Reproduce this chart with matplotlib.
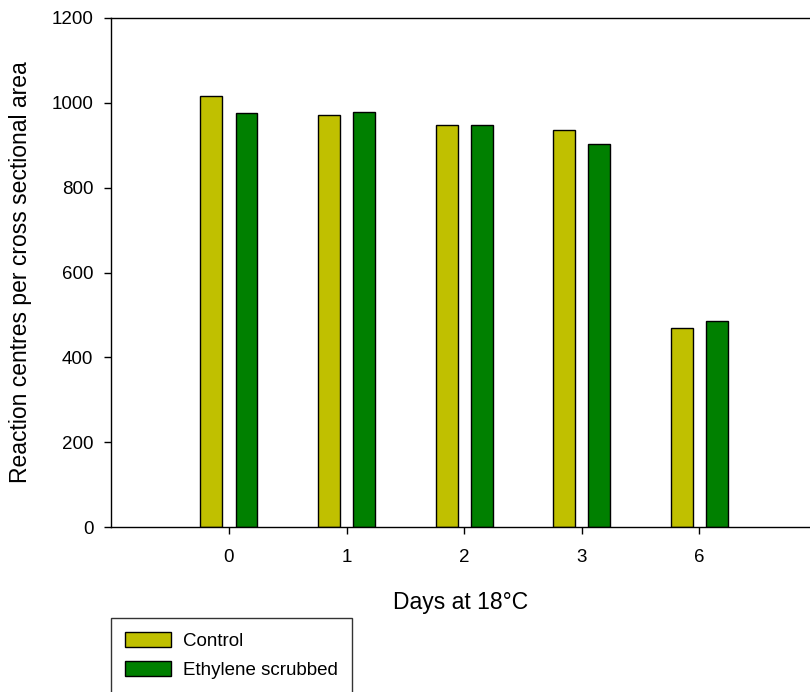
import numpy as np
from matplotlib import pyplot as plt

plt.rcParams["font.family"] = ["Liberation Sans", "DejaVu Sans"]

days = ["0", "1", "2", "3", "6"]
control = [1016, 971, 948, 936, 469]
ethylene_scrubbed = [976, 978, 948, 903, 486]

fig = plt.figure(figsize=(8.1, 6.92), dpi=100)
ax = fig.add_axes([110.7 / 810, 1 - 527 / 692, 1 - 110.7 / 810, (527 - 18) / 692])

x = np.arange(len(days))
width = 0.186
offset = 0.149
ax.bar(x - offset, control, width, color="#c0c000", edgecolor="black",
       linewidth=1.0, label="Control")
ax.bar(x + offset, ethylene_scrubbed, width, color="#008000", edgecolor="black",
       linewidth=1.0, label="Ethylene scrubbed")

ax.set_xlim(-1.005, 4.94)
ax.set_ylim(0, 1200)
ax.set_xticks(x)
ax.set_xticklabels(days)
ax.set_yticks(np.arange(0, 1201, 200))

ax.spines["right"].set_visible(False)
for side in ("left", "bottom", "top"):
    ax.spines[side].set_linewidth(1.0)
ax.tick_params(axis="both", direction="out", length=5, width=1.0,
               labelsize=13.5)
ax.tick_params(axis="y", pad=7.5)
ax.tick_params(axis="x", pad=11)

ax.set_xlabel("Days at 18°C", fontsize=16.5, labelpad=18)
ax.set_ylabel("Reaction centres per cross sectional area", fontsize=16.5,
              labelpad=14)

leg = fig.legend(
    loc="upper left",
    bbox_to_anchor=(110.7 / 810, 1 - 618 / 692),
    fontsize=13.5,
    frameon=True,
    fancybox=False,
    edgecolor="black",
    borderpad=0.75,
    handlelength=2.45,
    handleheight=0.85,
    handletextpad=0.64,
    labelspacing=0.6,
    borderaxespad=0,
)
leg.get_frame().set_linewidth(1.0)
leg.set_in_layout(False)

fig.savefig("out.png", dpi=100)
